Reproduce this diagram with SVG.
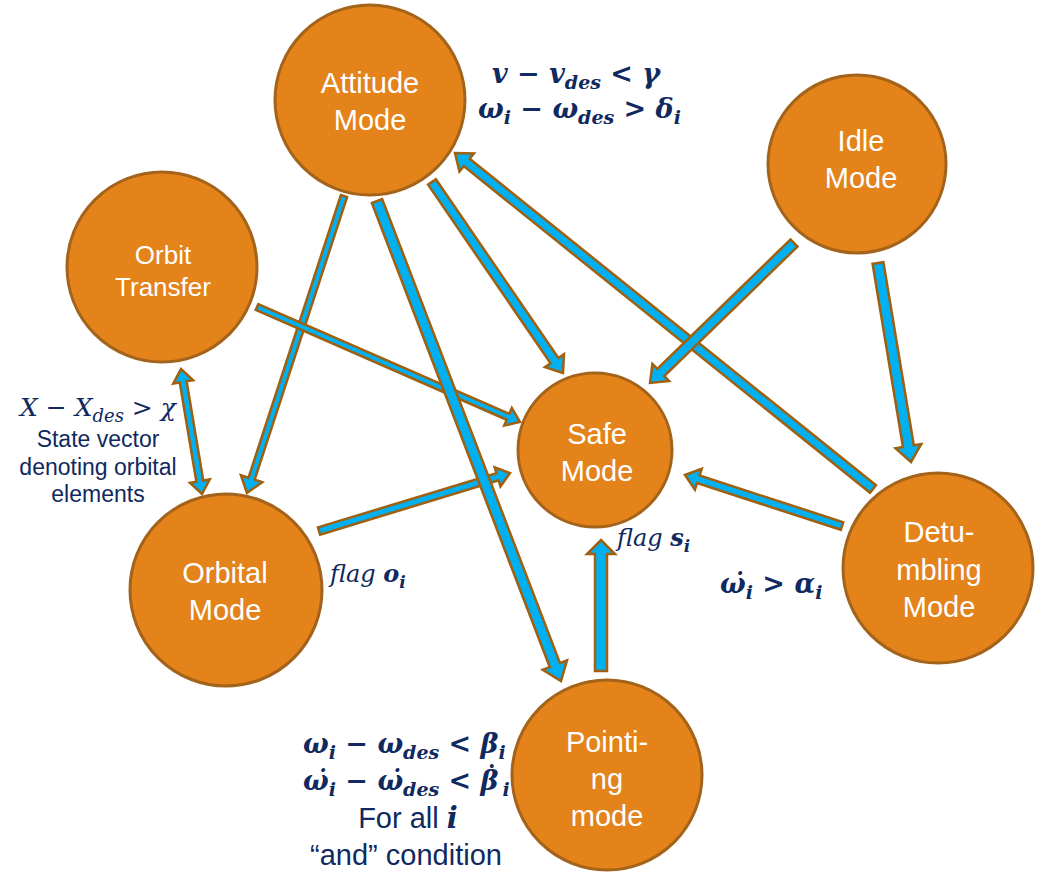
<svg xmlns="http://www.w3.org/2000/svg" width="1038" height="880" viewBox="0 0 1038 880">
<style>
.nd{fill:#E3831A;stroke:#A3631A;stroke-width:3}
.nt{fill:#FFFFFF;font-family:"Liberation Sans",Arial,sans-serif;font-size:29px;text-anchor:middle}
.ar{fill:#00B0F0;stroke:#A0600F;stroke-width:2.5;stroke-linejoin:miter}
.m{fill:#10295E;font-family:"DejaVu Serif","Liberation Serif",serif;font-weight:bold}
.bi{font-style:italic}
.it{font-style:italic;font-weight:normal}
.tx{fill:#10295E;font-family:"Liberation Sans",Arial,sans-serif;text-anchor:middle}
</style>
<rect width="1038" height="880" fill="#FFFFFF"/>
<g id="connectors">
  <path class="ar" transform="translate(601,671) rotate(-90)" d="M0,-6 L117,-6 L117,-14 L131,0 L117,14 L117,6 L0,6 Z"/>
  <path class="ar" transform="translate(344,196) rotate(108.1)" d="M0,-3.25 L297.4,-3.25 L297.4,-11.25 L312.4,0 L297.4,11.25 L297.4,3.25 L0,3.25 Z"/>
  <path class="ar" transform="translate(181,369) rotate(80.46)" d="M0,0 L13,-10 L13,-3.5 L113.75,-3.5 L113.75,-10 L126.75,0 L113.75,10 L113.75,3.5 L13,3.5 L13,10 Z"/>
  <path class="ar" transform="translate(257,307) rotate(23.62)" d="M0,-3.25 L274,-3.25 L274,-9.5 L287,0 L274,9.5 L274,3.25 L0,3.25 Z"/>
  <path class="ar" transform="translate(319,531) rotate(-16.89)" d="M0,-3.75 L186.6,-3.75 L186.6,-10 L199.6,0 L186.6,10 L186.6,3.75 L0,3.75 Z"/>
  <path class="ar" transform="translate(377,201) rotate(69.03)" d="M0,-5.5 L497,-5.5 L497,-13 L514,0 L497,13 L497,5.5 L0,5.5 Z"/>
  <path class="ar" transform="translate(432,182) rotate(55.56)" d="M0,-4.75 L216.6,-4.75 L216.6,-11.5 L231.6,0 L216.6,11.5 L216.6,4.75 L0,4.75 Z"/>
  <path class="ar" transform="translate(873,489) rotate(-141.21)" d="M0,-4.75 L521.3,-4.75 L521.3,-11.5 L536.3,0 L521.3,11.5 L521.3,4.75 L0,4.75 Z"/>
  <path class="ar" transform="translate(794,243) rotate(135.81)" d="M0,-5 L185.8,-5 L185.8,-12 L200.8,0 L185.8,12 L185.8,5 L0,5 Z"/>
  <path class="ar" transform="translate(878,263) rotate(80.58)" d="M0,-5.5 L185.7,-5.5 L185.7,-13 L201.7,0 L185.7,13 L185.7,5.5 L0,5.5 Z"/>
  <path class="ar" transform="translate(842,526) rotate(-162)" d="M0,-4 L151.1,-4 L151.1,-11 L165.1,0 L151.1,11 L151.1,4 L0,4 Z"/>
</g>
<g id="node-attitude">
  <circle class="nd" cx="370" cy="100" r="95"/>
  <text class="nt" x="370" y="93">Attitude</text>
  <text class="nt" x="370" y="130">Mode</text>
</g>
<g id="node-idle">
  <circle class="nd" cx="857" cy="164" r="89"/>
  <text class="nt" x="861" y="151">Idle</text>
  <text class="nt" x="861" y="188">Mode</text>
</g>
<g id="node-orbit-transfer">
  <circle class="nd" cx="162" cy="267" r="95"/>
  <text class="nt" x="163" y="264" style="font-size:26px">Orbit</text>
  <text class="nt" x="163" y="296" style="font-size:26px">Transfer</text>
</g>
<g id="node-safe">
  <circle class="nd" cx="595" cy="450" r="77"/>
  <text class="nt" x="597" y="444">Safe</text>
  <text class="nt" x="597" y="481">Mode</text>
</g>
<g id="node-orbital">
  <circle class="nd" cx="226" cy="590" r="96"/>
  <text class="nt" x="225" y="583">Orbital</text>
  <text class="nt" x="225" y="620">Mode</text>
</g>
<g id="node-detumbling">
  <circle class="nd" cx="938" cy="568" r="95"/>
  <text class="nt" x="939" y="542">Detu-</text>
  <text class="nt" x="939" y="580">mbling</text>
  <text class="nt" x="939" y="617">Mode</text>
</g>
<g id="node-pointing">
  <circle class="nd" cx="607" cy="775" r="95"/>
  <text class="nt" x="607" y="752">Pointi-</text>
  <text class="nt" x="607" y="789">ng</text>
  <text class="nt" x="607" y="826">mode</text>
</g>
<g id="labels">
  <text class="m" x="492" y="83" style="font-size:27px"><tspan class="bi">v</tspan> − <tspan class="bi">v</tspan><tspan class="bi" dy="6" style="font-size:19px">des</tspan><tspan dy="-6"> &lt; </tspan><tspan class="bi">γ</tspan></text>
  <text class="m" x="478" y="118" style="font-size:27px"><tspan class="bi">ω</tspan><tspan class="bi" dy="6" style="font-size:19px">i</tspan><tspan dy="-6"> − </tspan><tspan class="bi">ω</tspan><tspan class="bi" dy="6" style="font-size:19px">des</tspan><tspan dy="-6"> &gt; </tspan><tspan class="bi">δ</tspan><tspan class="bi" dy="6" style="font-size:19px">i</tspan></text>

  <text class="m" x="20" y="416" style="font-size:25px;font-weight:normal"><tspan class="it">X</tspan> − <tspan class="it">X</tspan><tspan class="it" dy="6" style="font-size:18px">des</tspan><tspan dy="-6"> &gt; </tspan><tspan class="it">χ</tspan></text>
  <text class="tx" x="98" y="447" style="font-size:23px">State vector</text>
  <text class="tx" x="98" y="475" style="font-size:23px">denoting orbital</text>
  <text class="tx" x="98" y="502" style="font-size:23px">elements</text>

  <text class="m" x="330" y="582" style="font-size:24px"><tspan class="it">flag </tspan><tspan class="bi">o</tspan><tspan class="bi" dy="6" style="font-size:17px">i</tspan></text>
  <text class="m" x="617" y="546" style="font-size:24px"><tspan class="it">flag </tspan><tspan class="bi">s</tspan><tspan class="bi" dy="6" style="font-size:17px">i</tspan></text>

  <text class="m" x="720" y="593" style="font-size:27px"><tspan class="bi">ω̇</tspan><tspan class="bi" dy="6" style="font-size:19px">i</tspan><tspan dy="-6"> &gt; </tspan><tspan class="bi">α</tspan><tspan class="bi" dy="6" style="font-size:19px">i</tspan></text>

  <text class="m" x="303" y="753" style="font-size:27px"><tspan class="bi">ω</tspan><tspan class="bi" dy="6" style="font-size:19px">i</tspan><tspan dy="-6"> − </tspan><tspan class="bi">ω</tspan><tspan class="bi" dy="6" style="font-size:19px">des</tspan><tspan dy="-6"> &lt; </tspan><tspan class="bi">β</tspan><tspan class="bi" dy="6" style="font-size:19px">i</tspan></text>
  <text class="m" x="303" y="790" style="font-size:27px"><tspan class="bi">ω̇</tspan><tspan class="bi" dy="6" style="font-size:19px">i</tspan><tspan dy="-6"> − </tspan><tspan class="bi">ω̇</tspan><tspan class="bi" dy="6" style="font-size:19px">des</tspan><tspan dy="-6"> &lt; </tspan><tspan class="bi">β</tspan><tspan dx="-13.5" dy="-4">˙</tspan><tspan class="bi" dx="4" dy="10" style="font-size:19px">i</tspan></text>
  <text class="tx" x="408" y="828" style="font-size:29px">For all <tspan class="bi" style="font-family:'DejaVu Serif',serif;font-weight:bold">i</tspan></text>
  <text class="tx" x="406" y="865" style="font-size:29px">“and” condition</text>
</g>
</svg>
